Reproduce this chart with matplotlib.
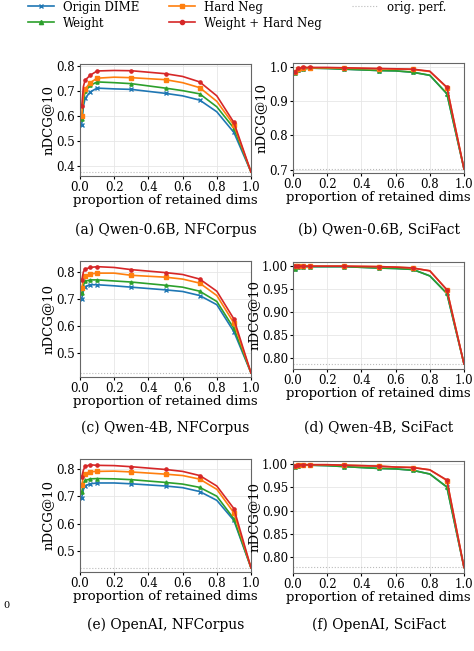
import numpy as np
import matplotlib.pyplot as plt
from matplotlib.lines import Line2D

plt.rcParams['font.family'] = 'DejaVu Serif'

x = [0.01, 0.02, 0.03, 0.06, 0.1, 0.2, 0.3, 0.5, 0.6, 0.7, 0.8, 0.9, 1.0]
marks = [0, 2, 3, 4, 6, 7, 9, 11]

names = ['Origin DIME', 'Weight', 'Hard Neg', 'Weight + Hard Neg']
colors = ['#1f77b4', '#2ca02c', '#ff7f0e', '#d62728']
markers = ['x', '^', 's', 'o']

# panel data: [origin, weight, hardneg, weight+hardneg]
qwen06_nf = [
    [0.565, 0.64, 0.672, 0.698, 0.713, 0.71, 0.708, 0.692, 0.682, 0.665, 0.618, 0.535, 0.376],
    [0.59, 0.66, 0.70, 0.724, 0.738, 0.735, 0.731, 0.713, 0.703, 0.69, 0.638, 0.552, 0.376],
    [0.60, 0.68, 0.71, 0.735, 0.753, 0.757, 0.755, 0.747, 0.735, 0.715, 0.66, 0.565, 0.376],
    [0.64, 0.72, 0.745, 0.765, 0.782, 0.784, 0.783, 0.771, 0.76, 0.738, 0.682, 0.575, 0.376],
]
qwen06_sf = [
    [0.982, 0.987, 0.992, 0.995, 0.997, 0.996, 0.994, 0.99, 0.989, 0.985, 0.976, 0.922, 0.702],
    [0.982, 0.987, 0.992, 0.995, 0.997, 0.996, 0.994, 0.99, 0.989, 0.985, 0.976, 0.922, 0.702],
    [0.985, 0.99, 0.995, 0.998, 0.998, 0.998, 0.997, 0.995, 0.994, 0.993, 0.987, 0.94, 0.702],
    [0.986, 0.991, 0.996, 0.999, 0.999, 0.999, 0.998, 0.996, 0.995, 0.994, 0.988, 0.941, 0.702],
]
qwen4_nf = [
    [0.70, 0.73, 0.745, 0.752, 0.752, 0.748, 0.743, 0.733, 0.727, 0.712, 0.678, 0.578, 0.425],
    [0.72, 0.75, 0.765, 0.77, 0.77, 0.766, 0.762, 0.75, 0.743, 0.728, 0.69, 0.59, 0.425],
    [0.74, 0.77, 0.783, 0.792, 0.795, 0.795, 0.787, 0.78, 0.773, 0.758, 0.712, 0.61, 0.425],
    [0.768, 0.80, 0.81, 0.816, 0.819, 0.816, 0.808, 0.797, 0.79, 0.773, 0.728, 0.625, 0.425],
]
qwen4_sf = [
    [0.993, 0.997, 0.998, 0.998, 0.998, 0.998, 0.998, 0.995, 0.994, 0.992, 0.978, 0.94, 0.788],
    [0.993, 0.997, 0.998, 0.998, 0.998, 0.998, 0.998, 0.995, 0.994, 0.992, 0.978, 0.94, 0.788],
    [0.999, 0.999, 0.999, 0.999, 0.999, 0.999, 0.999, 0.998, 0.997, 0.995, 0.989, 0.948, 0.788],
    [0.999, 0.999, 0.999, 0.999, 0.999, 0.999, 0.999, 0.998, 0.997, 0.995, 0.989, 0.948, 0.788],
]
openai_nf = [
    [0.695, 0.725, 0.738, 0.745, 0.748, 0.748, 0.745, 0.737, 0.731, 0.717, 0.685, 0.612, 0.44],
    [0.715, 0.745, 0.757, 0.763, 0.764, 0.763, 0.76, 0.75, 0.744, 0.732, 0.70, 0.618, 0.44],
    [0.74, 0.77, 0.782, 0.789, 0.79, 0.791, 0.788, 0.78, 0.775, 0.762, 0.725, 0.64, 0.44],
    [0.77, 0.795, 0.808, 0.814, 0.812, 0.811, 0.807, 0.797, 0.79, 0.775, 0.737, 0.655, 0.44],
]
openai_sf = [
    [0.995, 0.996, 0.997, 0.998, 0.998, 0.997, 0.995, 0.991, 0.99, 0.987, 0.979, 0.951, 0.778],
    [0.995, 0.996, 0.997, 0.998, 0.998, 0.997, 0.995, 0.991, 0.99, 0.987, 0.979, 0.951, 0.778],
    [0.997, 0.998, 0.999, 0.999, 0.999, 0.999, 0.998, 0.996, 0.994, 0.993, 0.988, 0.965, 0.778],
    [0.997, 0.998, 0.999, 0.999, 0.999, 0.999, 0.998, 0.996, 0.994, 0.993, 0.988, 0.966, 0.778],
]

panels = [
    (qwen06_nf, (0.36, 0.81), [0.4, 0.5, 0.6, 0.7, 0.8], '%.1f', '(a) Qwen-0.6B, NFCorpus'),
    (qwen06_sf, (0.69, 1.012), [0.7, 0.8, 0.9, 1.0], '%.1f', '(b) Qwen-0.6B, SciFact'),
    (qwen4_nf, (0.41, 0.84), [0.5, 0.6, 0.7, 0.8], '%.1f', '(c) Qwen-4B, NFCorpus'),
    (qwen4_sf, (0.777, 1.008), [0.80, 0.85, 0.90, 0.95, 1.00], '%.2f', '(d) Qwen-4B, SciFact'),
    (openai_nf, (0.425, 0.835), [0.5, 0.6, 0.7, 0.8], '%.1f', '(e) OpenAI, NFCorpus'),
    (openai_sf, (0.766, 1.007), [0.80, 0.85, 0.90, 0.95, 1.00], '%.2f', '(f) OpenAI, SciFact'),
]

W, H = 474, 651
fig = plt.figure(figsize=(W / 100, H / 100), dpi=100)
lefts = [80, 293]
aw = 171
boxes = [(64, 176), (63, 173), (261, 377), (262, 369), (459, 572), (461, 573)]
caps_y = [230, 428, 625]

for i, (data, ylim, yt, fmt, cap) in enumerate(panels):
    r, c = divmod(i, 2)
    top, bot = boxes[i]
    ax = fig.add_axes([lefts[c] / W, 1 - bot / H, aw / W, (bot - top) / H])
    ax.axhline(data[0][-1], color='#bbbbbb', lw=0.8, ls=':')
    for s, col, mk in zip(data, colors, markers):
        ax.plot(x, s, color=col, lw=1.2, marker=mk, ms=2.3, markevery=marks)
    ax.set_xlim(0, 1)
    ax.set_ylim(*ylim)
    ax.set_yticks(yt)
    ax.yaxis.set_major_formatter(plt.FormatStrFormatter(fmt))
    ax.set_xticks([0, 0.2, 0.4, 0.6, 0.8, 1.0])
    ax.tick_params(labelsize=8.5, length=2, pad=1.5)
    ax.grid(True, color='#e6e6e6', lw=0.6)
    for sp in ax.spines.values():
        sp.set_color('#666666')
    ax.set_xlabel('proportion of retained dims', fontsize=9.5, labelpad=0)
    ax.set_ylabel('nDCG@10', fontsize=9.5, labelpad=1)
    fig.text((lefts[c] + aw / 2) / W, 1 - caps_y[r] / H, cap, ha='center', va='center', fontsize=10)

handles = [Line2D([], [], color=col, marker=mk, ms=3, lw=1.2) for col, mk in zip(colors, markers)]
handles.append(Line2D([], [], color='#bbbbbb', lw=0.8, ls=':'))
labels = names + ['orig. perf.']
fig.legend(handles, labels, ncol=3, loc='upper center', bbox_to_anchor=(0.5, 1.01), frameon=False,
           fontsize=8.5, handlelength=2.2, columnspacing=2.5, labelspacing=0.25, borderaxespad=0.2)
fig.text(3 / W, 1 - 606 / H, '0', fontsize=7, va='center')

fig.savefig('out.png', dpi=100)
